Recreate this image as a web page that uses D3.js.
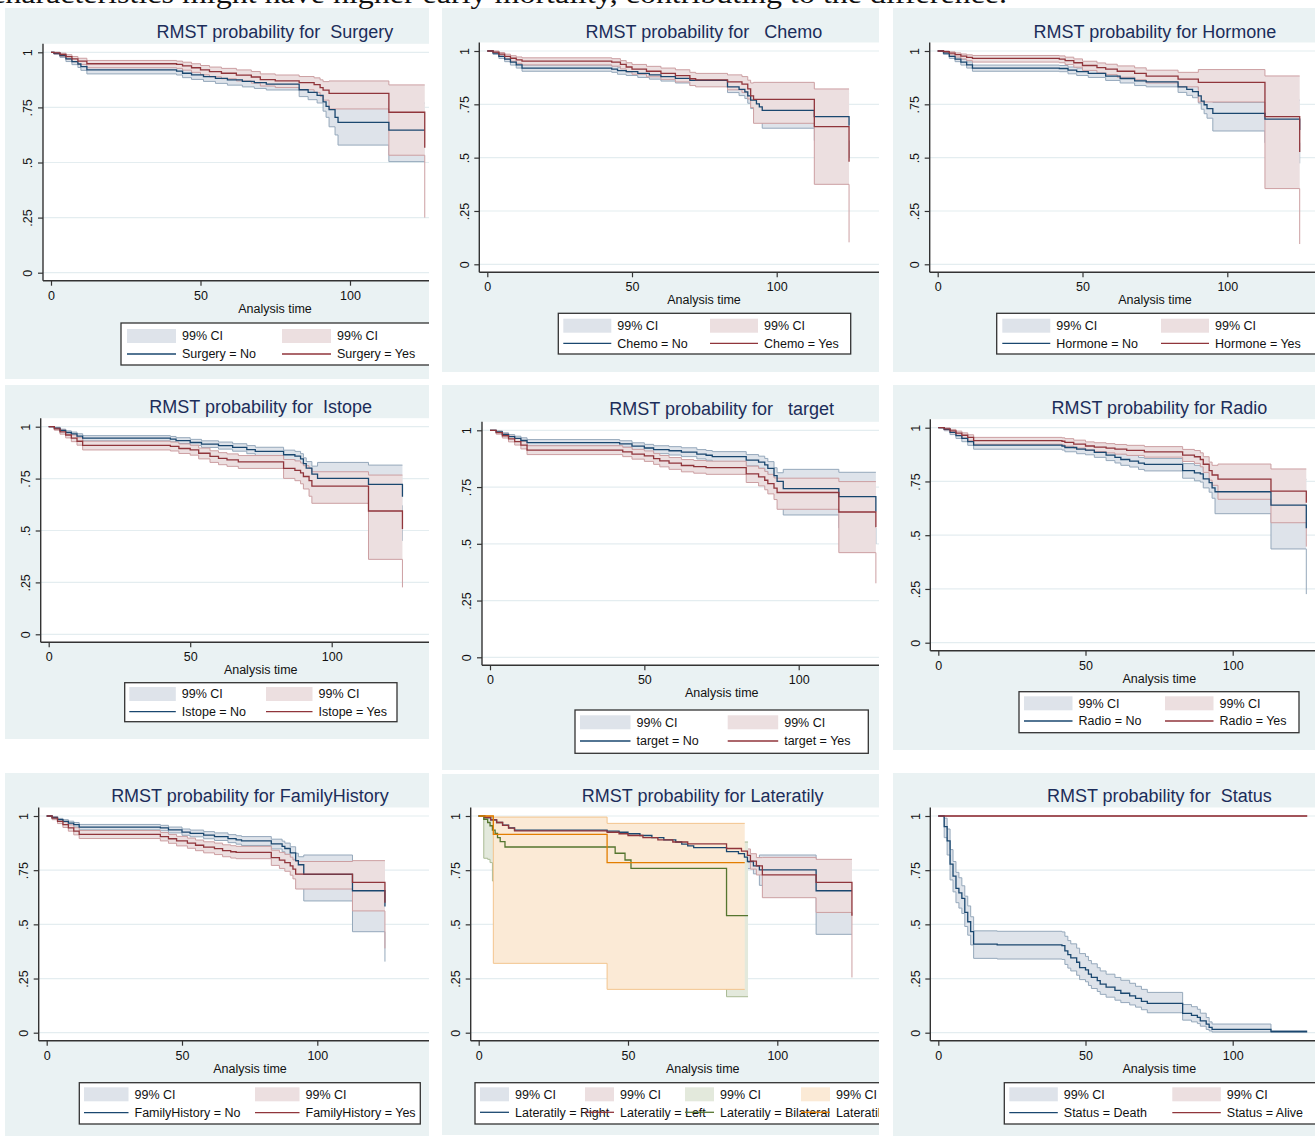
<!DOCTYPE html>
<html>
<head>
<meta charset="utf-8">
<script src="https://cdn.jsdelivr.net/npm/d3@7"></script>
<style>
  body { margin: 0; background: #fff; }
  svg text { font-family: "Liberation Sans", Arial, sans-serif; white-space: pre; }
</style>
</head>
<body>
<svg id="chart" width="1315" height="1136"></svg>
<script>
// Rows are [time, survival, lower 99% CI, upper 99% CI]
const surgeryNo = [
  [0,1,1,1],[1,0.995,0.99,1],[3,0.985,0.977,0.992],[5,0.97,0.958,0.98],[7,0.958,0.944,0.97],
  [9,0.947,0.931,0.961],[10,0.935,0.918,0.951],[12,0.92,0.902,0.937],[42,0.915,0.897,0.932],
  [44,0.905,0.885,0.924],[47,0.898,0.877,0.918],[51,0.89,0.868,0.911],[55,0.882,0.859,0.904],
  [59,0.875,0.851,0.898],[64,0.868,0.843,0.892],[68,0.862,0.836,0.887],[72,0.856,0.829,0.881],
  [83,0.83,0.799,0.858],[86,0.818,0.785,0.848],[89,0.805,0.77,0.837],[91,0.775,0.733,0.812],
  [92,0.755,0.705,0.795],[93,0.74,0.662,0.783],[95,0.705,0.625,0.765],[96,0.682,0.579,0.745],
  [113,0.647,0.504,0.77],[125,0.647,0.504,0.77]
];
const surgeryYes = [
  [0,1,1,1],[1,0.997,0.993,1],[3,0.99,0.982,0.996],[5,0.98,0.969,0.989],[7,0.97,0.957,0.981],
  [9,0.96,0.945,0.973],[12,0.948,0.93,0.963],[42,0.945,0.927,0.96],[44,0.938,0.919,0.955],
  [47,0.93,0.909,0.948],[50,0.92,0.898,0.94],[53,0.912,0.889,0.933],[57,0.905,0.88,0.927],
  [62,0.896,0.87,0.92],[67,0.888,0.86,0.913],[70,0.876,0.847,0.902],[75,0.87,0.84,0.897],
  [83,0.862,0.83,0.89],[88,0.853,0.818,0.884],[90,0.84,0.8,0.875],[91,0.828,0.783,0.867],
  [93,0.814,0.743,0.87],[113,0.728,0.533,0.852],[125,0.567,0.25,0.852]
];
const chemoNo = [
  [0,1,1,1],[2,0.99,0.984,0.996],[4,0.975,0.965,0.984],[6,0.962,0.95,0.973],[8,0.948,0.934,0.961],
  [10,0.935,0.92,0.949],[12,0.92,0.905,0.934],[43,0.915,0.9,0.93],[45,0.908,0.891,0.924],
  [48,0.903,0.885,0.92],[52,0.895,0.876,0.913],[56,0.888,0.868,0.907],[60,0.88,0.859,0.9],
  [65,0.872,0.85,0.893],[70,0.862,0.839,0.884],[83,0.832,0.805,0.857],[87,0.82,0.791,0.847],
  [89,0.808,0.777,0.837],[90,0.79,0.755,0.822],[91,0.77,0.73,0.806],[93,0.752,0.706,0.793],
  [94,0.738,0.688,0.783],[95,0.722,0.638,0.79],[113,0.692,0.58,0.8],[125,0.65,0.5,0.8]
];
const chemoYes = [
  [0,1,1,1],[2,0.995,0.99,1],[4,0.985,0.976,0.993],[6,0.975,0.963,0.985],[8,0.966,0.952,0.978],
  [10,0.958,0.942,0.972],[12,0.953,0.935,0.968],[43,0.948,0.929,0.964],[46,0.937,0.916,0.955],
  [48,0.925,0.902,0.945],[50,0.915,0.891,0.937],[55,0.905,0.879,0.928],[60,0.895,0.867,0.92],
  [65,0.885,0.855,0.912],[70,0.87,0.838,0.9],[72,0.865,0.832,0.895],[83,0.855,0.818,0.888],
  [88,0.845,0.805,0.88],[90,0.822,0.775,0.863],[91,0.79,0.735,0.85],[92,0.773,0.661,0.853],
  [113,0.645,0.375,0.822],[125,0.481,0.103,0.822]
];
const hormoneNo = [
  [0,1,1,1],[2,0.99,0.984,0.996],[4,0.975,0.965,0.984],[6,0.962,0.95,0.973],[8,0.948,0.934,0.961],
  [10,0.935,0.92,0.949],[12,0.92,0.905,0.934],[42,0.918,0.903,0.932],[45,0.91,0.893,0.925],
  [48,0.903,0.885,0.92],[52,0.895,0.876,0.913],[58,0.882,0.862,0.901],[63,0.871,0.85,0.891],
  [68,0.86,0.838,0.881],[72,0.855,0.832,0.877],[83,0.832,0.806,0.856],[86,0.82,0.792,0.846],
  [88,0.81,0.781,0.838],[90,0.79,0.756,0.822],[91,0.765,0.727,0.8],[92,0.748,0.706,0.787],
  [93,0.73,0.685,0.772],[95,0.708,0.625,0.759],[113,0.681,0.57,0.77],[125,0.63,0.473,0.77]
];
const hormoneYes = [
  [0,1,1,1],[2,0.997,0.993,1],[4,0.99,0.982,0.996],[6,0.983,0.972,0.991],[8,0.976,0.963,0.986],
  [10,0.97,0.955,0.982],[12,0.965,0.948,0.979],[42,0.962,0.945,0.977],[44,0.955,0.936,0.971],
  [47,0.945,0.924,0.963],[50,0.932,0.909,0.952],[55,0.922,0.897,0.944],[58,0.915,0.889,0.938],
  [62,0.905,0.877,0.93],[68,0.895,0.865,0.921],[72,0.882,0.85,0.91],[83,0.868,0.832,0.9],
  [90,0.853,0.761,0.913],[113,0.692,0.355,0.883],[125,0.527,0.095,0.883]
];
const istopeNo = [
  [0,1,1,1],[2,0.993,0.988,0.997],[4,0.982,0.975,0.988],[6,0.972,0.963,0.98],[8,0.965,0.955,0.974],
  [10,0.955,0.944,0.966],[12,0.945,0.932,0.957],[43,0.94,0.927,0.953],[45,0.933,0.919,0.947],
  [50,0.924,0.909,0.939],[54,0.916,0.9,0.932],[60,0.909,0.892,0.926],[65,0.9,0.882,0.918],
  [70,0.89,0.87,0.909],[73,0.881,0.86,0.901],[83,0.865,0.842,0.887],[87,0.858,0.833,0.881],
  [89,0.845,0.818,0.87],[90,0.822,0.792,0.85],[91,0.8,0.766,0.832],[93,0.772,0.73,0.81],
  [95,0.751,0.68,0.828],[113,0.722,0.62,0.815],[125,0.663,0.45,0.815]
];
const istopeYes = [
  [0,1,1,1],[2,0.99,0.983,0.996],[4,0.975,0.964,0.984],[6,0.96,0.946,0.972],[8,0.945,0.928,0.96],
  [10,0.93,0.911,0.947],[12,0.91,0.888,0.93],[43,0.905,0.883,0.926],[46,0.895,0.871,0.917],
  [50,0.888,0.863,0.911],[53,0.872,0.845,0.897],[57,0.857,0.828,0.884],[60,0.847,0.817,0.875],
  [63,0.84,0.809,0.869],[67,0.831,0.799,0.861],[83,0.799,0.751,0.842],[87,0.79,0.74,0.835],
  [89,0.778,0.725,0.825],[90,0.76,0.7,0.812],[92,0.74,0.665,0.8],[93,0.714,0.631,0.783],
  [113,0.594,0.361,0.767],[125,0.507,0.226,0.767]
];
const targetNo = [
  [0,1,1,1],[2,0.993,0.988,0.997],[4,0.982,0.974,0.989],[6,0.972,0.962,0.981],[8,0.964,0.953,0.974],
  [10,0.955,0.942,0.967],[12,0.946,0.932,0.959],[42,0.94,0.926,0.954],[46,0.93,0.914,0.945],
  [50,0.922,0.905,0.938],[53,0.915,0.897,0.932],[58,0.91,0.891,0.928],[62,0.904,0.884,0.923],
  [67,0.895,0.874,0.915],[70,0.89,0.868,0.911],[72,0.884,0.861,0.906],[83,0.869,0.843,0.893],
  [87,0.86,0.833,0.886],[89,0.848,0.818,0.876],[90,0.832,0.799,0.862],[92,0.8,0.762,0.835],
  [93,0.775,0.733,0.813],[95,0.743,0.627,0.828],[113,0.708,0.57,0.815],[125,0.642,0.5,0.815]
];
const targetYes = [
  [0,1,1,1],[2,0.99,0.983,0.996],[4,0.976,0.966,0.985],[6,0.962,0.949,0.974],[8,0.95,0.935,0.964],
  [10,0.935,0.918,0.951],[12,0.913,0.893,0.932],[43,0.905,0.884,0.925],[46,0.895,0.873,0.916],
  [50,0.887,0.863,0.909],[53,0.875,0.85,0.898],[55,0.865,0.839,0.889],[58,0.855,0.828,0.88],
  [62,0.845,0.817,0.871],[66,0.84,0.811,0.867],[70,0.836,0.806,0.864],[83,0.808,0.77,0.842],
  [87,0.795,0.755,0.832],[89,0.78,0.738,0.819],[90,0.765,0.72,0.806],[92,0.745,0.695,0.79],
  [93,0.726,0.652,0.789],[113,0.64,0.461,0.774],[125,0.573,0.326,0.774]
];
const radioNo = [
  [0,1,1,1],[2,0.992,0.986,0.997],[4,0.978,0.968,0.986],[6,0.963,0.95,0.974],[8,0.95,0.935,0.963],
  [10,0.935,0.918,0.95],[12,0.919,0.9,0.936],[42,0.915,0.896,0.933],[43,0.908,0.888,0.927],
  [47,0.9,0.879,0.92],[50,0.896,0.874,0.917],[53,0.885,0.862,0.907],[57,0.872,0.847,0.895],
  [60,0.862,0.836,0.887],[62,0.852,0.825,0.878],[65,0.845,0.817,0.871],[68,0.835,0.806,0.862],
  [70,0.829,0.799,0.857],[83,0.8,0.765,0.833],[87,0.79,0.753,0.825],[89,0.785,0.747,0.821],
  [90,0.762,0.72,0.801],[92,0.745,0.7,0.787],[93,0.72,0.672,0.765],[94,0.702,0.6,0.79],
  [113,0.64,0.436,0.76],[125,0.532,0.226,0.76]
];
const radioYes = [
  [0,1,1,1],[2,0.995,0.99,0.999],[4,0.985,0.977,0.992],[6,0.975,0.965,0.984],[8,0.965,0.952,0.976],
  [10,0.955,0.941,0.967],[12,0.94,0.923,0.955],[42,0.937,0.92,0.953],[43,0.932,0.914,0.949],
  [46,0.924,0.905,0.942],[50,0.915,0.895,0.934],[53,0.91,0.889,0.93],[57,0.905,0.883,0.926],
  [60,0.9,0.877,0.922],[64,0.895,0.871,0.918],[70,0.888,0.863,0.912],[83,0.872,0.843,0.899],
  [87,0.865,0.834,0.894],[89,0.852,0.818,0.883],[90,0.83,0.792,0.865],[92,0.8,0.756,0.84],
  [93,0.78,0.732,0.825],[95,0.761,0.667,0.831],[113,0.705,0.558,0.808],[125,0.651,0.447,0.808]
];
const familyNo = [
  [0,1,1,1],[2,0.993,0.988,0.997],[4,0.983,0.976,0.989],[6,0.975,0.966,0.983],[8,0.967,0.957,0.976],
  [10,0.96,0.949,0.97],[12,0.949,0.936,0.961],[42,0.945,0.932,0.957],[45,0.936,0.922,0.949],
  [50,0.926,0.911,0.94],[53,0.92,0.904,0.935],[58,0.912,0.895,0.928],[62,0.905,0.887,0.922],
  [67,0.896,0.877,0.914],[70,0.89,0.87,0.909],[72,0.885,0.864,0.905],[83,0.871,0.848,0.893],
  [87,0.86,0.835,0.884],[88,0.85,0.823,0.875],[90,0.83,0.8,0.858],[92,0.794,0.757,0.828],
  [93,0.775,0.735,0.812],[95,0.731,0.608,0.82],[113,0.655,0.466,0.79],[125,0.582,0.328,0.79]
];
const familyYes = [
  [0,1,1,1],[2,0.99,0.983,0.996],[4,0.975,0.965,0.984],[6,0.96,0.947,0.972],[8,0.945,0.93,0.959],
  [10,0.93,0.913,0.946],[12,0.915,0.896,0.933],[42,0.905,0.885,0.924],[45,0.895,0.874,0.915],
  [48,0.885,0.862,0.906],[52,0.875,0.851,0.898],[55,0.865,0.84,0.889],[58,0.856,0.83,0.881],
  [62,0.849,0.822,0.875],[65,0.84,0.812,0.867],[68,0.835,0.806,0.863],[70,0.832,0.803,0.86],
  [83,0.808,0.772,0.842],[86,0.796,0.758,0.832],[88,0.785,0.745,0.823],[90,0.77,0.727,0.81],
  [91,0.755,0.71,0.797],[92,0.732,0.663,0.79],[113,0.694,0.562,0.794],[125,0.6,0.389,0.794]
];
const lateralRight = [
  [0,1,1,1],[2,0.993,0.988,0.997],[4,0.982,0.975,0.988],[6,0.97,0.961,0.978],[8,0.958,0.947,0.968],
  [10,0.945,0.932,0.957],[12,0.935,0.921,0.948],[43,0.93,0.916,0.944],[47,0.925,0.91,0.94],
  [50,0.918,0.902,0.934],[54,0.91,0.893,0.927],[58,0.9,0.882,0.918],[62,0.89,0.871,0.909],
  [66,0.88,0.859,0.9],[68,0.87,0.848,0.891],[70,0.862,0.839,0.884],[72,0.854,0.83,0.877],
  [83,0.836,0.81,0.861],[87,0.826,0.798,0.853],[89,0.81,0.78,0.839],[90,0.79,0.757,0.821],
  [92,0.77,0.733,0.805],[94,0.751,0.68,0.82],[113,0.655,0.454,0.78],[125,0.655,0.454,0.78]
];
const lateralLeft = [
  [0,1,1,1],[2,0.993,0.987,0.997],[4,0.982,0.974,0.989],[6,0.97,0.96,0.979],[8,0.957,0.945,0.968],
  [10,0.944,0.93,0.956],[12,0.931,0.916,0.945],[43,0.925,0.909,0.94],[47,0.918,0.901,0.934],
  [50,0.91,0.892,0.927],[55,0.9,0.881,0.918],[60,0.89,0.869,0.909],[65,0.88,0.858,0.9],
  [70,0.871,0.848,0.892],[83,0.85,0.823,0.875],[88,0.838,0.809,0.865],[90,0.818,0.786,0.848],
  [91,0.792,0.755,0.826],[93,0.77,0.728,0.808],[95,0.728,0.623,0.809],[113,0.694,0.555,0.8],
  [125,0.54,0.255,0.8]
];
const lateralBilateral = [
  [0,1,1,1],[1.7,0.985,0.805,1],[3,0.97,0.8,0.998],[3.8,0.955,0.785,0.996],[4.6,0.935,0.7,0.99],
  [5.5,0.92,0.66,0.985],[6.3,0.9,0.62,0.978],[7.2,0.882,0.59,0.97],[8.8,0.857,0.55,0.96],
  [45.7,0.828,0.5,0.95],[49,0.797,0.46,0.94],[51,0.758,0.42,0.93],[83,0.54,0.166,0.88],
  [90.2,0.54,0.166,0.88]
];
const lateralOther = [
  [0,1,1,1],[4.9,0.915,0.32,0.995],[43,0.785,0.2,0.966],[89.1,0.785,0.2,0.966]
];
const statusDeath = [
  [0,1,1,1],[1.7,1,1,1],[2,0.951,0.9,0.99],[3,0.885,0.82,0.94],[4,0.778,0.705,0.845],
  [5,0.723,0.65,0.79],[6,0.666,0.6,0.74],[7,0.645,0.575,0.715],[8,0.62,0.55,0.678],
  [9,0.555,0.49,0.63],[10,0.512,0.45,0.585],[11,0.466,0.405,0.535],[12,0.409,0.343,0.47],
  [20,0.405,0.34,0.468],[42,0.402,0.338,0.465],[43,0.378,0.315,0.445],[44,0.36,0.298,0.425],
  [45,0.345,0.285,0.41],[47,0.325,0.265,0.39],[48,0.3,0.245,0.365],[50,0.29,0.235,0.352],
  [51,0.27,0.218,0.333],[52,0.255,0.204,0.318],[54,0.24,0.19,0.3],[55,0.224,0.177,0.285],
  [57,0.21,0.164,0.27],[60,0.195,0.15,0.255],[62,0.182,0.139,0.242],[65,0.17,0.128,0.228],
  [67,0.158,0.118,0.214],[69,0.145,0.106,0.2],[71,0.135,0.092,0.186],[83,0.089,0.058,0.13],
  [86,0.08,0.05,0.12],[88,0.071,0.042,0.108],[89,0.055,0.03,0.09],[91,0.04,0.015,0.07],
  [92,0.025,0.008,0.05],[93,0.015,0.003,0.04],[113,0.005,0.001,0.01],[125.3,0.005,0.001,0.01]
];
const statusAlive = [[0,1,1,1],[125.3,1,1,1]];

const xTicks = [0, 50, 100];
const yTicks = [0, 0.25, 0.5, 0.75, 1];
const yTickLabels = ['0', '.25', '.5', '.75', '1'];

const groups = [
  { title: 'RMST probability for  Surgery', series: [['Surgery = No', surgeryNo], ['Surgery = Yes', surgeryYes]] },
  { title: 'RMST probability for   Chemo', series: [['Chemo = No', chemoNo], ['Chemo = Yes', chemoYes]] },
  { title: 'RMST probability for Hormone', series: [['Hormone = No', hormoneNo], ['Hormone = Yes', hormoneYes]] },
  { title: 'RMST probability for  Istope', series: [['Istope = No', istopeNo], ['Istope = Yes', istopeYes]] },
  { title: 'RMST probability for   target', series: [['target = No', targetNo], ['target = Yes', targetYes]] },
  { title: 'RMST probability for Radio', series: [['Radio = No', radioNo], ['Radio = Yes', radioYes]] },
  { title: 'RMST probability for FamilyHistory', series: [['FamilyHistory = No', familyNo], ['FamilyHistory = Yes', familyYes]] },
  { title: 'RMST probability for Lateratily', series: [['Lateratily = Right', lateralRight], ['Lateratily = Left', lateralLeft], ['Lateratily = Bilateral', lateralBilateral], ['Lateratily = Unknown', lateralOther]] },
  { title: 'RMST probability for  Status', series: [['Status = Death', statusDeath], ['Status = Alive', statusAlive]] }
];

// Stata s2color-ish palette: line, CI fill, CI edge
const palette = [
  { line: '#1a476f', fill: '#dee3ea', edge: '#95a8bb' },
  { line: '#90353b', fill: '#ecdfe0', edge: '#cc9fa2' },
  { line: '#55752f', fill: '#e3e9dc', edge: '#a9ba94' },
  { line: '#e37e00', fill: '#fbead6', edge: '#f3c48e' }
];

// panel frames as they sit in the page (each is a cropped Stata graph)
const frames = [
  { box: [5, 8, 429, 379], x0: 51, x100: 350, y1: 52.3, y0: 272.7, tx: 275, ty: 32,
    leg: { x: 121, y: 323, w: 400, h: 42, r1: 336, r2: 354, cols: [127, 282], kw: 49 } },
  { box: [442, 8, 879, 372], x0: 487.3, x100: 776.7, y1: 51, y0: 264.3, tx: 704, ty: 32,
    leg: { x: 558.3, y: 313.3, w: 292.4, h: 40.7, r1: 325.7, r2: 343.3, cols: [563.3, 710], kw: 48 } },
  { box: [893, 8, 1315, 372], x0: 937.7, x100: 1227.3, y1: 51, y0: 264.3, tx: 1155, ty: 32,
    leg: { x: 996.7, y: 313.3, w: 400, h: 40.7, r1: 325.7, r2: 343.3, cols: [1002.3, 1161], kw: 48 } },
  { box: [5, 385, 429, 739], x0: 48.7, x100: 331.7, y1: 426.7, y0: 634.3, tx: 260.7, ty: 406.7,
    leg: { x: 124.7, y: 682.7, w: 272.3, h: 39, r1: 694, r2: 711.7, cols: [129.3, 266], kw: 46.5 } },
  { box: [442, 385, 879, 770], x0: 490, x100: 798.7, y1: 430.3, y0: 657.3, tx: 721.7, ty: 409,
    leg: { x: 575, y: 710, w: 293.3, h: 43.3, r1: 722.3, r2: 741, cols: [580, 727.7], kw: 50.5 } },
  { box: [893, 385, 1315, 750], x0: 938.3, x100: 1232.7, y1: 427.7, y0: 642.7, tx: 1159.3, ty: 407.3,
    leg: { x: 1019, y: 691.7, w: 280, h: 41, r1: 703.3, r2: 721, cols: [1024, 1165], kw: 48.5 } },
  { box: [5, 773, 429, 1136], x0: 46.7, x100: 317.3, y1: 816, y0: 1032.7, tx: 250, ty: 796,
    leg: { x: 79.3, y: 1082.7, w: 341, h: 41.3, r1: 1094.3, r2: 1112.7, cols: [84, 255], kw: 44.5 } },
  { box: [442, 774, 879, 1135], x0: 478.7, x100: 777.3, y1: 816, y0: 1032.7, tx: 702.7, ty: 796,
    leg: { x: 475, y: 1082.7, w: 450, h: 41.3, r1: 1094.3, r2: 1112.3, cols: [480, 585, 685, 801], kw: 29 } },
  { box: [893, 773, 1315, 1136], x0: 938.3, x100: 1232.7, y1: 816, y0: 1032.7, tx: 1159.3, ty: 796,
    leg: { x: 1004.3, y: 1082.7, w: 400, h: 41.3, r1: 1094.3, r2: 1112.7, cols: [1009.3, 1172.3], kw: 48.5 } }
];

const svg = d3.select('#chart');
const defs = svg.append('defs');

function drawPanel(F, group, idx) {
  const [bx0, by0, bx1, by1] = F.box;
  const clipId = 'panel-clip-' + idx;
  defs.append('clipPath').attr('id', clipId)
    .append('rect').attr('x', bx0).attr('y', by0).attr('width', bx1 - bx0).attr('height', by1 - by0);

  const g = svg.append('g').attr('clip-path', `url(#${clipId})`);

  // graph region
  g.append('rect').attr('x', bx0).attr('y', by0).attr('width', bx1 - bx0).attr('height', by1 - by0)
    .attr('fill', '#eaf2f3');

  const x = d3.scaleLinear().domain([0, 100]).range([F.x0, F.x100]);
  const y = d3.scaleLinear().domain([0, 1]).range([F.y0, F.y1]);
  const axX = F.x0 - 8, axY = F.y0 + 8, top = F.y1 - 8.5;

  // plot region
  g.append('rect').attr('x', axX).attr('y', top).attr('width', bx1 - axX).attr('height', axY - top)
    .attr('fill', '#fff');

  // grid lines
  g.append('g').selectAll('line').data(yTicks).join('line')
    .attr('x1', axX).attr('x2', bx1)
    .attr('y1', d => y(d)).attr('y2', d => y(d))
    .attr('stroke', '#e4edf0').attr('stroke-width', 1.2);

  const area = d3.area().curve(d3.curveStepAfter)
    .x(d => x(d[0])).y0(d => y(d[2])).y1(d => y(d[3]));
  const bound = j => d3.line().curve(d3.curveStepAfter).x(d => x(d[0])).y(d => y(d[j]));
  const survLine = d3.line().curve(d3.curveStepAfter).x(d => x(d[0])).y(d => y(d[1]));

  // confidence bands
  group.series.forEach(([label, data], k) => {
    const c = palette[k];
    g.append('path').datum(data).attr('d', area).attr('fill', c.fill);
    [2, 3].forEach(j => {
      g.append('path').datum(data).attr('d', bound(j))
        .attr('fill', 'none').attr('stroke', c.edge).attr('stroke-width', 1);
    });
  });

  // survival curves
  group.series.forEach(([label, data], k) => {
    g.append('path').datum(data).attr('d', survLine)
      .attr('fill', 'none').attr('stroke', palette[k].line).attr('stroke-width', 1.3);
  });

  // axes
  const xa = g.append('g').attr('transform', `translate(0,${axY})`)
    .call(d3.axisBottom(x).tickValues(xTicks).tickSize(5).tickFormat(d3.format('d')));
  xa.select('.domain').remove();
  xa.attr('font-family', null).attr('font-size', null);
  xa.selectAll('line').attr('stroke', '#333').attr('stroke-width', 1.2);
  xa.selectAll('text').attr('y', 14.5).attr('dy', '0.35em')
    .attr('fill', '#111').style('font-size', '12.5px');

  const ya = g.append('g').attr('transform', `translate(${axX},0)`)
    .call(d3.axisLeft(y).tickValues(yTicks).tickSize(5).tickFormat((d, i) => yTickLabels[i]));
  ya.select('.domain').remove();
  ya.attr('font-family', null).attr('font-size', null);
  ya.selectAll('line').attr('stroke', '#333').attr('stroke-width', 1.2);
  ya.selectAll('text').attr('x', 0).attr('y', 0).attr('dy', '0.35em')
    .attr('text-anchor', 'middle').attr('transform', 'translate(-15,0) rotate(-90)')
    .attr('fill', '#111').style('font-size', '12.5px');

  g.append('line').attr('x1', axX).attr('x2', axX).attr('y1', top).attr('y2', axY)
    .attr('stroke', '#333').attr('stroke-width', 1.4);
  g.append('line').attr('x1', axX).attr('x2', bx1).attr('y1', axY).attr('y2', axY)
    .attr('stroke', '#333').attr('stroke-width', 1.4);

  // titles
  g.append('text').attr('x', F.tx).attr('y', F.ty).attr('dy', '0.35em')
    .attr('text-anchor', 'middle').attr('fill', '#1c2d5a').style('font-size', '18px')
    .text(group.title);
  g.append('text').attr('x', F.tx).attr('y', axY + 27.5).attr('dy', '0.35em')
    .attr('text-anchor', 'middle').attr('fill', '#111').style('font-size', '12.5px')
    .text('Analysis time');

  // legend
  const L = F.leg;
  const lg = g.append('g');
  lg.append('rect').attr('x', L.x).attr('y', L.y).attr('width', L.w).attr('height', L.h)
    .attr('fill', '#fff').attr('stroke', '#333').attr('stroke-width', 1.3);
  group.series.forEach(([label], k) => {
    const cx = L.cols[k];
    lg.append('rect').attr('x', cx).attr('y', L.r1 - 7).attr('width', L.kw).attr('height', 14)
      .attr('fill', palette[k].fill);
    lg.append('text').attr('x', cx + L.kw + 6).attr('y', L.r1).attr('dy', '0.35em')
      .attr('fill', '#111').style('font-size', '12.5px').text('99% CI');
    lg.append('line').attr('x1', cx).attr('x2', cx + L.kw).attr('y1', L.r2).attr('y2', L.r2)
      .attr('stroke', palette[k].line).attr('stroke-width', 1.3);
    lg.append('text').attr('x', cx + L.kw + 6).attr('y', L.r2).attr('dy', '0.35em')
      .attr('fill', '#111').style('font-size', '12.5px').text(label);
  });
}

frames.forEach((F, i) => drawPanel(F, groups[i], i));

// tail of the preceding paragraph, cut by the top edge
svg.append('text')
  .attr('x', -9).attr('y', 3)
  .attr('textLength', 1016).attr('lengthAdjust', 'spacingAndGlyphs')
  .style('font-family', '"Liberation Serif", "Times New Roman", serif')
  .style('font-size', '27px').attr('fill', '#111')
  .text('characteristics might have higher early mortality, contributing to the difference.');
</script>
</body>
</html>
